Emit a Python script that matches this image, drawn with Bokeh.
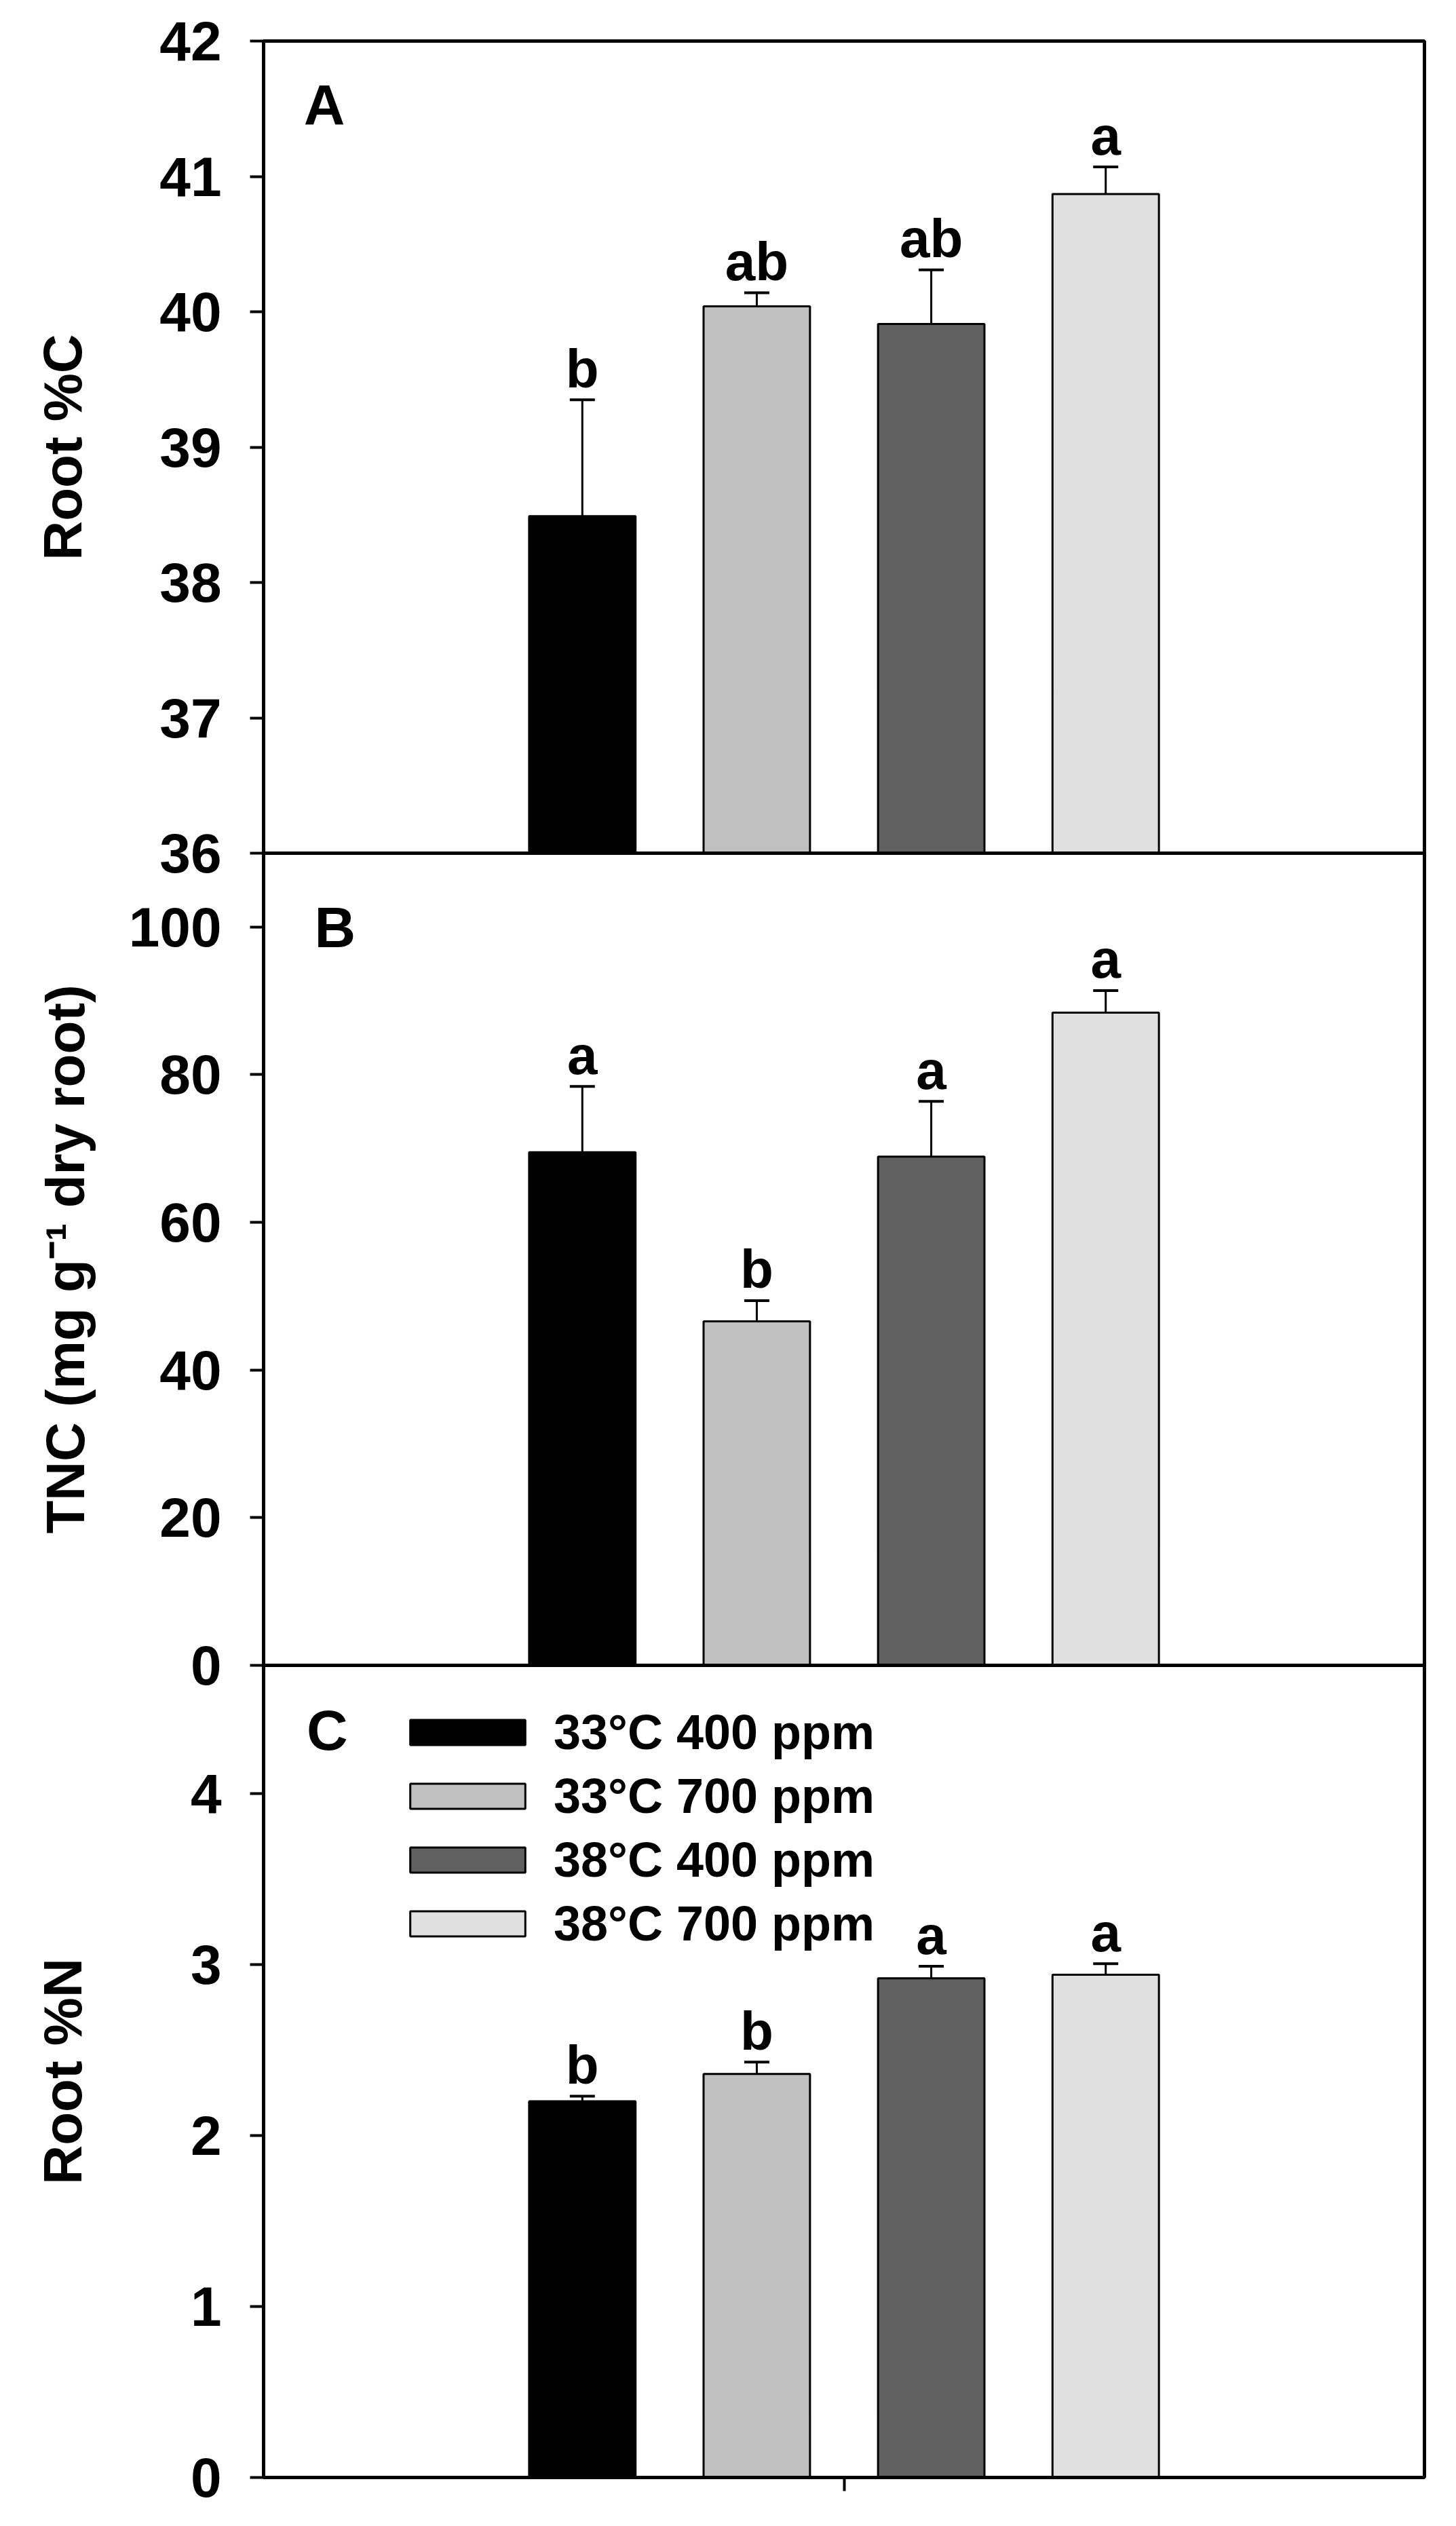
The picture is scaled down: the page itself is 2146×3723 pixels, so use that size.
from bokeh.plotting import figure
from bokeh.models import (Range1d, FixedTicker, Whisker, TeeHead, ColumnDataSource,
                          Legend, LegendItem, Label)
from bokeh.layouts import column
from bokeh.embed import file_html
from bokeh.resources import INLINE
from bokeh.core.properties import value

# ---------------- data ----------------
treatments = ["33°C 400 ppm", "33°C 700 ppm", "38°C 400 ppm", "38°C 700 ppm"]
positions = [1, 2, 3, 4]
bar_colors = ["#000000", "#c0c0c0", "#606060", "#e0e0e0"]

root_c = [38.49, 40.04, 39.91, 40.87]
root_c_se = [0.86, 0.10, 0.40, 0.20]
root_c_letters = ["b", "ab", "ab", "a"]
root_c_ticks = [36, 37, 38, 39, 40, 41, 42]

tnc = [69.5, 46.6, 68.9, 88.4]
tnc_se = [8.9, 2.8, 7.5, 3.0]
tnc_letters = ["a", "b", "a", "a"]
tnc_ticks = [0, 20, 40, 60, 80, 100]

root_n = [2.20, 2.36, 2.92, 2.94]
root_n_se = [0.03, 0.07, 0.07, 0.065]
root_n_letters = ["b", "b", "a", "a"]
root_n_ticks = [0, 1, 2, 3, 4]

FONT = "Liberation Sans"
FRAME_W = 1711
FRAME_H = 1197
OVER = 60  # overlap so that boundary tick labels are not clipped


def make_panel(vals, errs, letters, y0, y1, ticks, ylabel, label_standoff,
               panel_letter, letter_xy, top_border, bottom_border, last, margin):
    p = figure(frame_width=FRAME_W, frame_height=FRAME_H,
               x_range=Range1d(-0.827, 5.827), y_range=Range1d(y0, y1),
               output_backend="svg", toolbar_location=None,
               min_border_left=388, min_border_right=30,
               min_border_top=top_border, min_border_bottom=bottom_border,
               margin=margin)
    p.grid.visible = False
    p.outline_line_color = "black"
    p.outline_line_width = 5
    p.background_fill_alpha = 0
    p.border_fill_alpha = 0

    renderers = []
    for i in range(len(vals)):
        src_i = ColumnDataSource(dict(x=[positions[i]], top=[vals[i]]))
        r = p.vbar(x="x", top="top", bottom=y0, width=0.61, source=src_i,
                   fill_color=bar_colors[i], line_color="black", line_width=3)
        renderers.append(r)

    src = ColumnDataSource(dict(
        x=positions,
        lower=vals,
        upper=[v + e for v, e in zip(vals, errs)],
        letter=letters,
    ))
    w = Whisker(source=src, base="x", upper="upper", lower="lower",
                line_color="black", line_width=3,
                upper_head=TeeHead(size=37, line_width=4, line_color="black"),
                lower_head=None, level="overlay")
    p.add_layout(w)
    p.text(x="x", y="upper", text="letter", source=src, text_align="center",
           text_baseline="alphabetic", y_offset=-46,
           text_font=value(FONT), text_font_style="bold",
           text_font_size="80px", text_color="black")

    p.add_layout(Label(x=letter_xy[0], y=letter_xy[1], text=panel_letter,
                       text_font=FONT, text_font_style="bold",
                       text_font_size="84px", text_color="black",
                       text_baseline="alphabetic", text_align="left"))

    ya = p.yaxis[0]
    ya.ticker = FixedTicker(ticks=ticks)
    ya.minor_tick_line_color = None
    ya.major_tick_out = 20
    ya.major_tick_in = 0
    ya.major_tick_line_width = 4
    ya.axis_line_width = 5
    ya.major_label_standoff = 42
    ya.major_label_text_font = FONT
    ya.major_label_text_font_style = "bold"
    ya.major_label_text_font_size = "82px"
    ya.major_label_text_color = "black"
    ya.axis_label = ylabel
    ya.axis_label_text_font = FONT
    ya.axis_label_text_font_style = "bold"
    ya.axis_label_text_font_size = "80px"
    ya.axis_label_text_color = "black"
    ya.axis_label_standoff = label_standoff

    xa = p.xaxis[0]
    if last:
        xa.ticker = FixedTicker(ticks=[2.5])
        xa.minor_tick_line_color = None
        xa.major_tick_out = 20
        xa.major_tick_in = 0
        xa.major_tick_line_width = 4
        xa.axis_line_width = 5
        xa.major_label_text_font_size = "1px"
        xa.major_label_text_color = None
    else:
        xa.visible = False
    return p, renderers


pA, _ = make_panel(root_c, root_c_se, root_c_letters, 36, 42, root_c_ticks,
                   "Root %C", 95, "A", (-0.597, 41.525), 60, OVER, False,
                   (0, 0, 0, 0))
pB, _ = make_panel(tnc, tnc_se, tnc_letters, 0, 110, tnc_ticks,
                   "TNC (mg g⁻¹ dry root)", 46, "B", (-0.535, 99.9), OVER, OVER,
                   False, (-2 * OVER, 0, 0, 0))
pC, rC = make_panel(root_n, root_n_se, root_n_letters, 0, 4.75, root_n_ticks,
                    "Root %N", 141, "C", (-0.58, 4.37), OVER, 50, True,
                    (-2 * OVER, 0, 0, 0))

legend = Legend(items=[LegendItem(label=treatments[i], renderers=[rC[i]])
                       for i in range(4)],
                location=(195, 773), orientation="vertical",
                glyph_width=212, glyph_height=46, label_height=86,
                label_standoff=21, spacing=8, padding=0, margin=0,
                border_line_color=None, background_fill_alpha=0,
                label_text_font=FONT, label_text_font_style="bold",
                label_text_font_size="72px", label_text_color="black")
pC.add_layout(legend)

layout = column(pA, pB, pC, spacing=0)
open("out.html", "w").write(file_html(layout, INLINE))
